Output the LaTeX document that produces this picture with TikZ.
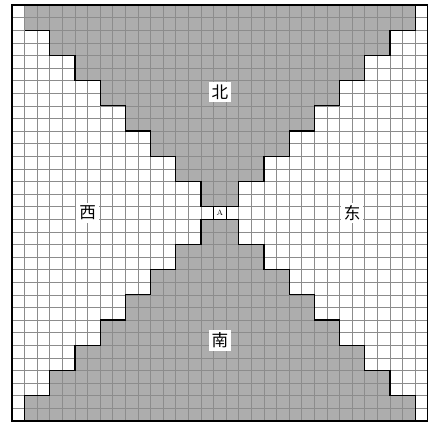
\documentclass[tikz,border=0pt]{standalone}
\usepackage{fontspec}
\newfontfamily\cjk{Noto Sans CJK SC}
\begin{document}
\begin{tikzpicture}[x=0.4cm,y=-0.4cm,
  region/.style={fill=black!32},
  gridline/.style={draw=black!45,line width=0.5pt},
  stair/.style={draw=black,line width=1.1pt,line join=miter},
  frame/.style={draw=black,line width=1.3pt},
  dirlabel/.style={fill=white,inner sep=2.5pt,font=\cjk\fontsize{15pt}{15pt}\selectfont},
  centercell/.style={fill=white,draw=black,line width=0.5pt,minimum size=0.4cm,inner sep=0pt,font=\fontsize{7pt}{7pt}\selectfont}]
\useasboundingbox (-0.95,-0.4) rectangle (33.1,33.41);
% gray regions
\fill[region] (1,0)--(32,0)--(32,2)--(30,2)--(30,4)--(28,4)--(28,6)--(26,6)--(26,8)--(24,8)--(24,10)--(22,10)--(22,12)--(20,12)--(20,14)--(18,14)--(18,16)
 --(15,16)--(15,14)--(13,14)--(13,12)--(11,12)--(11,10)--(9,10)--(9,8)--(7,8)--(7,6)--(5,6)--(5,4)--(3,4)--(3,2)--(1,2)--cycle;
\fill[region] (1,33)--(32,33)--(32,31)--(30,31)--(30,29)--(28,29)--(28,27)--(26,27)--(26,25)--(24,25)--(24,23)--(22,23)--(22,21)--(20,21)--(20,19)--(18,19)--(18,17)
 --(15,17)--(15,19)--(13,19)--(13,21)--(11,21)--(11,23)--(9,23)--(9,25)--(7,25)--(7,27)--(5,27)--(5,29)--(3,29)--(3,31)--(1,31)--cycle;
% grid
\foreach \i in {1,...,32} {
  \draw[gridline] (\i,0) -- (\i,33);
  \draw[gridline] (0,\i) -- (33,\i);
}
% staircase outlines
\draw[stair] (1,2)--(3,2)--(3,4)--(5,4)--(5,6)--(7,6)--(7,8)--(9,8)--(9,10)--(11,10)--(11,12)--(13,12)--(13,14)--(15,14)--(15,16)
 --(18,16)--(18,14)--(20,14)--(20,12)--(22,12)--(22,10)--(24,10)--(24,8)--(26,8)--(26,6)--(28,6)--(28,4)--(30,4)--(30,2)--(32,2)--(32,0);
\draw[stair] (1,33)--(1,31)--(3,31)--(3,29)--(5,29)--(5,27)--(7,27)--(7,25)--(9,25)--(9,23)--(11,23)--(11,21)--(13,21)--(13,19)--(15,19)--(15,17)
 --(18,17)--(18,19)--(20,19)--(20,21)--(22,21)--(22,23)--(24,23)--(24,25)--(26,25)--(26,27)--(28,27)--(28,29)--(30,29)--(30,31)--(32,31)--(32,33);
% frame
\draw[frame] (0,0) rectangle (33,33);
% labels
\node[centercell] (A) at (16.5,16.5) {A};
\node[dirlabel] (north) at (16.5,6.9) {北};
\node[dirlabel] (west) at (6,16.5) {西};
\node[dirlabel] (east) at (27,16.5) {东};
\node[dirlabel] (south) at (16.5,26.6) {南};
\end{tikzpicture}
\end{document}
